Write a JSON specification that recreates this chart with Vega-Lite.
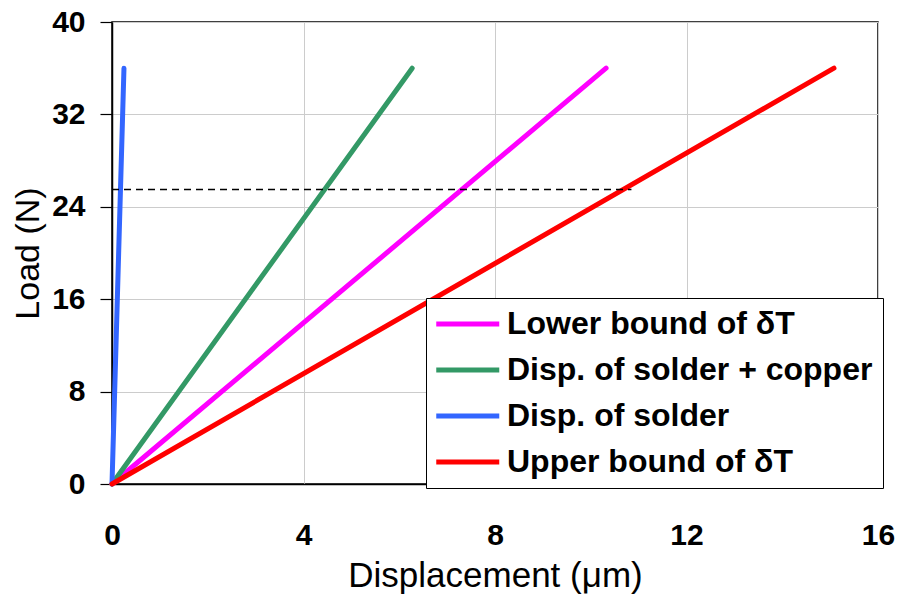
{
  "$schema": "https://vega.github.io/schema/vega-lite/v6.json",
  "autosize": "none",
  "width": 766,
  "height": 462,
  "padding": {"left": 112, "top": 22, "right": 20, "bottom": 114},
  "background": "white",
  "config": {
    "view": {"stroke": "black", "strokeWidth": 1.5},
    "font": "Liberation Sans"
  },
  "datasets": {
    "lines": [
      {"series": "Lower bound of δT", "disp": 0, "load": 0},
      {"series": "Lower bound of δT", "disp": 10.32, "load": 36},
      {"series": "Disp. of solder + copper", "disp": 0, "load": 0},
      {"series": "Disp. of solder + copper", "disp": 6.27, "load": 36},
      {"series": "Disp. of solder", "disp": 0, "load": 0},
      {"series": "Disp. of solder", "disp": 0.25, "load": 36},
      {"series": "Upper bound of δT", "disp": 0, "load": 0},
      {"series": "Upper bound of δT", "disp": 15.08, "load": 36}
    ],
    "dash": [
      {"disp": 0, "load": 25.5},
      {"disp": 10.85, "load": 25.5}
    ]
  },
  "layer": [
    {
      "data": {"name": "lines"},
      "mark": {"type": "line", "strokeCap": "round"},
      "encoding": {
        "x": {
          "field": "disp", "type": "quantitative",
          "scale": {"domain": [0, 16], "nice": false},
          "axis": {
            "title": "Displacement (μm)",
            "values": [0, 4, 8, 12, 16],
            "ticks": false,
            "domainColor": "black", "domainWidth": 1.5,
            "gridColor": "#cccccc",
            "labelFontSize": 30, "labelFontWeight": "bold", "labelColor": "black",
            "labelPadding": 36, "labelFlush": false,
            "titleFontSize": 35, "titleFontWeight": "normal", "titleColor": "black",
            "titlePadding": 8
          }
        },
        "y": {
          "field": "load", "type": "quantitative",
          "scale": {"domain": [0, 40], "nice": false},
          "axis": {
            "title": "Load (N)",
            "values": [0, 8, 16, 24, 32, 40],
            "tickSize": 12, "tickColor": "black", "tickWidth": 1.2,
            "domainColor": "black", "domainWidth": 1.5,
            "gridColor": "#cccccc",
            "labelFontSize": 30, "labelFontWeight": "bold", "labelColor": "black",
            "labelPadding": 15,
            "titleFontSize": 34, "titleFontWeight": "normal", "titleColor": "black",
            "titlePadding": 6
          }
        },
        "color": {
          "field": "series", "type": "nominal",
          "scale": {
            "domain": ["Lower bound of δT", "Disp. of solder + copper", "Disp. of solder", "Upper bound of δT"],
            "range": ["#ff00ff", "#339966", "#3366ff", "#ff0000"]
          },
          "legend": {
            "title": null,
            "orient": "none",
            "legendX": 314,
            "legendY": 276,
            "strokeColor": "black",
            "fillColor": "white",
            "padding": 10,
            "symbolType": "M-1.5,0H4.5",
            "symbolSize": 441,
            "labelFontSize": 32,
            "labelFontWeight": "bold",
            "labelColor": "black",
            "labelOffset": 39,
            "labelLimit": 500,
            "rowPadding": 14
          }
        },
        "strokeWidth": {
          "field": "series", "type": "nominal",
          "scale": {
            "domain": ["Lower bound of δT", "Disp. of solder + copper", "Disp. of solder", "Upper bound of δT"],
            "range": [5, 5, 5, 3]
          },
          "legend": null
        }
      }
    },
    {
      "data": {"name": "dash"},
      "mark": {"type": "line", "color": "black", "strokeWidth": 1.5, "strokeDash": [7, 5]},
      "encoding": {
        "x": {"field": "disp", "type": "quantitative"},
        "y": {"field": "load", "type": "quantitative"}
      }
    }
  ]
}
